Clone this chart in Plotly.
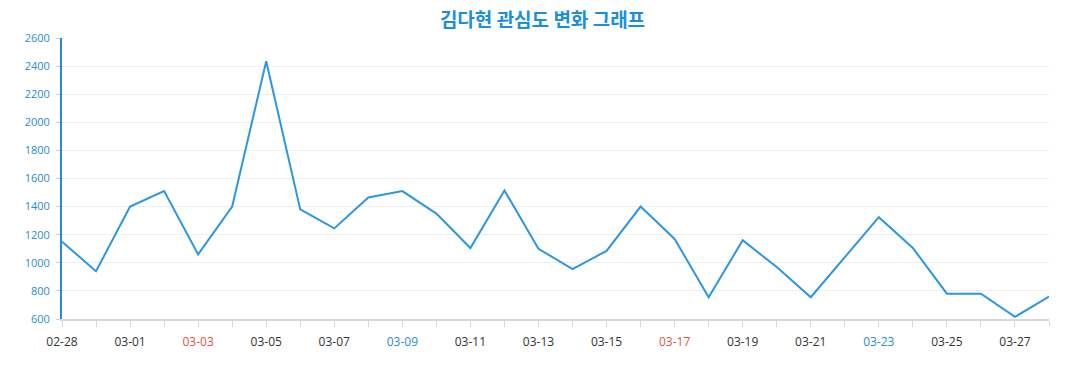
import plotly.graph_objects as go

dates = ["02-28", "02-29", "03-01", "03-02", "03-03", "03-04", "03-05", "03-06", "03-07", "03-08",
         "03-09", "03-10", "03-11", "03-12", "03-13", "03-14", "03-15", "03-16", "03-17", "03-18",
         "03-19", "03-20", "03-21", "03-22", "03-23", "03-24", "03-25", "03-26", "03-27", "03-28"]
values = [1150, 940, 1400, 1510, 1060, 1400, 2435, 1380, 1245, 1465,
          1510, 1350, 1105, 1515, 1100, 955, 1085, 1400, 1170, 755,
          1160, 970, 755, 1040, 1325, 1105, 780, 780, 615, 760]
sundays = ["03-03", "03-17"]
saturdays = ["03-09", "03-23"]
y_ticks = [600, 800, 1000, 1200, 1400, 1600, 1800, 2000, 2200, 2400, 2600]

LINE = "#2b97e3"
AXIS_BLUE = "#2a8ad6"


def label(i, d):
    if i % 2:
        return ""
    if d in sundays:
        return f"<span style='color:#e2553f'>{d}</span>"
    if d in saturdays:
        return f"<span style='color:#2a8ad6'>{d}</span>"
    return d


ticktext = [label(i, d) for i, d in enumerate(dates)]

fig = go.Figure(go.Scatter(
    x=dates, y=values, mode="lines",
    line=dict(color=LINE, width=2),
    hoverinfo="x+y",
))

fig.update_layout(
    width=1077, height=390,
    paper_bgcolor="white", plot_bgcolor="white",
    margin=dict(l=62, r=28, t=38, b=71, autoexpand=False),
    showlegend=False,
    title=dict(text="<b>김다현 관심도 변화 그래프</b>", x=542.5 / 1077, xanchor="center",
               y=1 - 20.5 / 390, yanchor="middle",
               font=dict(family="Noto Sans CJK KR", size=19, color="#1a8fe0")),
    font=dict(family="Open Sans"),
)

fig.update_xaxes(
    type="category",
    range=[0, len(dates) - 1],
    tickmode="array", tickvals=dates, ticktext=ticktext,
    tickangle=0,
    ticks="outside", ticklen=6, tickcolor="#d8d8d8", tickwidth=1,
    ticklabelstandoff=5,
    showline=True, linecolor="#d8d8d8", linewidth=2,
    showgrid=False, zeroline=False,
    tickfont=dict(family="Open Sans", size=12, color="#333333"),
)

fig.update_yaxes(
    range=[600, 2600],
    tickmode="array", tickvals=y_ticks,
    ticks="outside", ticklen=4, tickcolor="#cccccc", tickwidth=1,
    ticklabelstandoff=4,
    showline=True, linecolor=AXIS_BLUE, linewidth=2,
    showgrid=True, gridcolor="#eeeeee", gridwidth=1,
    zeroline=False,
    tickfont=dict(family="Open Sans", size=11, color=AXIS_BLUE),
)

fig.write_html("out.html", config={"displayModeBar": False},
               post_script="document.body.style.margin='0';")
